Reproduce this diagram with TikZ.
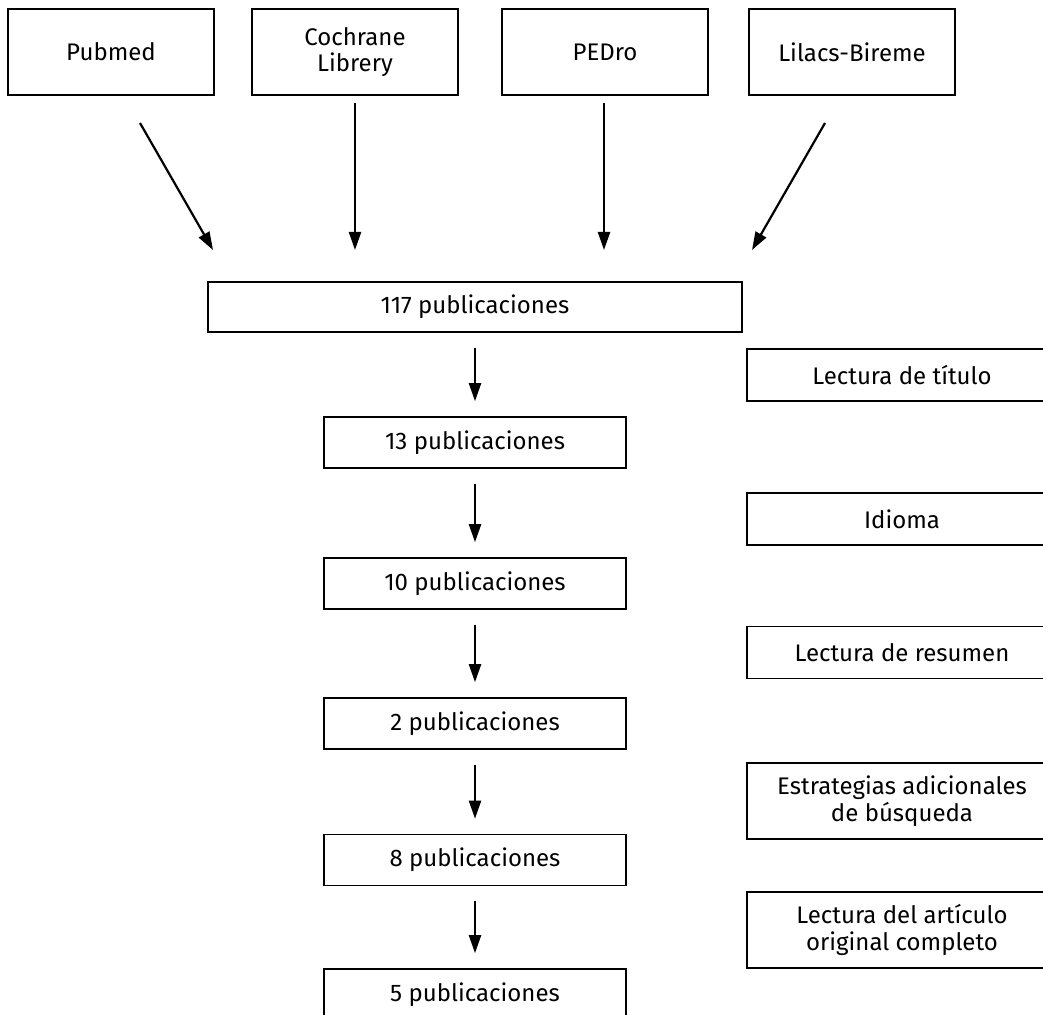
\documentclass[tikz,border=0pt]{standalone}
\usepackage{fontspec}
\setmainfont{Fira Sans}
\usetikzlibrary{positioning,arrows.meta}

\begin{document}
\begin{tikzpicture}[x=0.5pt,y=-0.5pt,base/.style={draw,line width=0.8pt,rectangle,align=center,inner sep=0pt,font=\fontsize{12}{13.2}\selectfont},db/.style={base,minimum width=103pt,minimum height=43pt},pub/.style={base,minimum width=151pt,minimum height=25.5pt},crit/.style={base,minimum width=155pt,minimum height=26pt},arr/.style={line width=1.1pt,-{Triangle[width=6pt,length=9pt]}}]
  \useasboundingbox (0,0) rectangle (1043,1015);

  \node[db] (pubmed) at (111,52) {Pubmed};
  \node[db] (cochrane) at (355,52) {Cochrane\\Librery};
  \node[db] (pedro) at (605,52) {PEDro};
  \node[db] (lilacs) at (852,52) {Lilacs-Bireme};

  \coordinate (s1) at (140,123);  \coordinate (e1) at (213,250);
  \coordinate (s2) at (355,103);  \coordinate (e2) at (355,250);
  \coordinate (s3) at (604,103);  \coordinate (e3) at (604,250);
  \coordinate (s4) at (825,123);  \coordinate (e4) at (752,250);

  \node[pub,minimum width=267pt,minimum height=25pt] (p117) at (475,307) {117 publicaciones};
  \node[pub] (p13) at (475,442.5) {13 publicaciones};
  \node[pub] (p10) at (475,583.5) {10 publicaciones};
  \node[pub] (p2) at (475,723.5) {2 publicaciones};
  \node[pub] (p8) at (475,860) {8 publicaciones};
  \node[pub] (p5) at (475,994.5) {5 publicaciones};

  \node[crit] (titulo) at (902,375) {Lectura de título};
  \node[crit] (idioma) at (902,519) {Idioma};
  \node[crit] (resumen) at (902,652.5) {Lectura de resumen};
  \node[crit,minimum height=38pt] (estrat) at (902,801) {Estrategias adicionales\\de búsqueda};
  \node[crit,minimum height=38pt] (articulo) at (902,930) {Lectura del artículo\\original completo};

  \draw[arr] (s1) -- (e1);
  \draw[arr] (s2) -- (e2);
  \draw[arr] (s3) -- (e3);
  \draw[arr] (s4) -- (e4);
  \draw[arr,shorten <=7.5pt,shorten >=7.5pt] (p117) -- (p13);
  \draw[arr,shorten <=7.5pt,shorten >=7.5pt] (p13) -- (p10);
  \draw[arr,shorten <=7.5pt,shorten >=7.5pt] (p10) -- (p2);
  \draw[arr,shorten <=7.5pt,shorten >=7.5pt] (p2) -- (p8);
  \draw[arr,shorten <=7.5pt,shorten >=7.5pt] (p8) -- (p5);
\end{tikzpicture}
\end{document}
